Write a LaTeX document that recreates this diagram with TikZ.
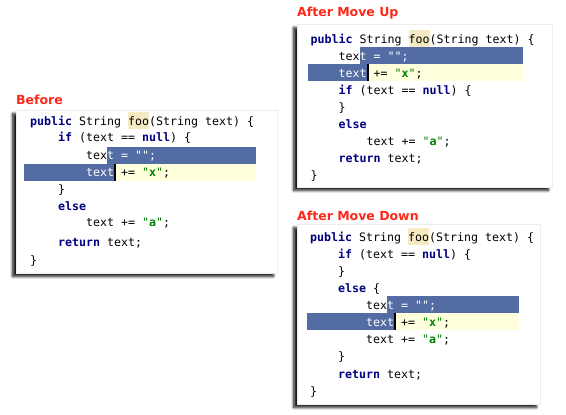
\documentclass[tikz,border=0pt]{standalone}
\usepackage{fontspec}
\setmainfont{DejaVu Sans}
\setmonofont{DejaVu Sans Mono}
\usetikzlibrary{shadows.blur}

\definecolor{titlered}{RGB}{255,38,26}
\definecolor{selblue}{RGB}{83,108,163}
\definecolor{lineyellow}{RGB}{255,255,221}
\definecolor{matchbeige}{RGB}{245,234,194}
\definecolor{kwnavy}{RGB}{0,0,128}
\definecolor{strgreen}{RGB}{0,128,0}

\newcommand{\kw}[1]{\textcolor{kwnavy}{\bfseries #1}}
\newcommand{\strlit}[1]{\textcolor{strgreen}{"\textbf{#1}"}}
\newcommand{\onsel}[1]{\textcolor{white}{#1}}

\tikzset{
	title/.style={anchor=base west, inner sep=0pt, text=titlered, font=\bfseries\fontsize{12.5}{14}\selectfont},
	code/.style={anchor=base west, inner sep=0pt, font=\ttfamily\fontsize{11.63}{14}\selectfont},
	panel/.style={fill=white, draw=black!7, blur shadow={shadow xshift=-3.5pt, shadow yshift=-3.5pt, shadow blur radius=2.5pt, shadow blur steps=8, shadow opacity=90}},
	sel/.style={fill=selblue},
	curline/.style={fill=lineyellow},
	match/.style={fill=matchbeige},
	caret/.style={fill=black}
}

\begin{document}
\begin{tikzpicture}[x=1pt, y=-1pt]
		\useasboundingbox (0,0) rectangle (566,415);

		% Before
		\pgfmathsetmacro{\cb}{30}
		\node[title] (tb) at (16,104) {Before};
		\path[panel] (16,110) rectangle (277,273);
		\fill[match] (\cb+98,112) rectangle (\cb+119,129);
		\fill[sel] (\cb+77,147) rectangle (256,164);
		\fill[sel] (24,164) rectangle (\cb+84,181);
		\fill[curline] (\cb+84,164) rectangle (256,181);
		\fill[caret] (\cb+84,164) rectangle (\cb+86,181);
		\node[code] (b1) at (\cb,125) {\kw{public} String foo(String text) \{};
		\node[code] (b2) at (\cb+28,141.7) {\kw{if} (text == \kw{null}) \{};
		\node[code] (b3) at (\cb+56,159.5) {tex\onsel{t = "";}};
		\node[code] (b4) at (\cb+56,176.5) {\onsel{text} += \strlit{x};};
		\node[code] (b5) at (\cb+28,193.3) {\}};
		\node[code] (b6) at (\cb+28,210) {\kw{else}};
		\node[code] (b7) at (\cb+56,226.7) {text += \strlit{a};};
		\node[code] (b8) at (\cb+28,246.7) {\kw{return} text;};
		\node[code] (b9) at (\cb,264) {\}};

		% After Move Up
		\pgfmathsetmacro{\cu}{310.5}
		\node[title] (tu) at (297,16.7) {After Move Up};
		\path[panel] (297,24) rectangle (552,187);
		\fill[match] (\cu+98,30) rectangle (\cu+119,47);
		\fill[sel] (\cu+49,47) rectangle (523,64);
		\fill[sel] (308,64) rectangle (\cu+56,81);
		\fill[curline] (\cu+56,64) rectangle (523,81);
		\fill[caret] (\cu+56,64) rectangle (\cu+58,81);
		\node[code] (u1) at (\cu,43.3) {\kw{public} String foo(String text) \{};
		\node[code] (u2) at (\cu+28,60) {tex\onsel{t = "";}};
		\node[code] (u3) at (\cu+28,77.3) {\onsel{text} += \strlit{x};};
		\node[code] (u4) at (\cu+28,94) {\kw{if} (text == \kw{null}) \{};
		\node[code] (u5) at (\cu+28,111.3) {\}};
		\node[code] (u6) at (\cu+28,128.3) {\kw{else}};
		\node[code] (u7) at (\cu+56,145.7) {text += \strlit{a};};
		\node[code] (u8) at (\cu+28,162.3) {\kw{return} text;};
		\node[code] (u9) at (\cu,179) {\}};

		% After Move Down
		\pgfmathsetmacro{\cd}{310}
		\node[title] (td) at (297,220) {After Move Down};
		\path[panel] (297,224) rectangle (540,404);
		\fill[match] (\cd+98,228) rectangle (\cd+119,245);
		\fill[sel] (\cd+77,296) rectangle (519,313);
		\fill[sel] (307,313) rectangle (\cd+84,330);
		\fill[curline] (\cd+84,313) rectangle (519,330);
		\fill[caret] (\cd+84,313) rectangle (\cd+86,330);
		\node[code] (d1) at (\cd,241.3) {\kw{public} String foo(String text) \{};
		\node[code] (d2) at (\cd+28,258) {\kw{if} (text == \kw{null}) \{};
		\node[code] (d3) at (\cd+28,275) {\}};
		\node[code] (d4) at (\cd+28,292.3) {\kw{else} \{};
		\node[code] (d5) at (\cd+56,309) {tex\onsel{t = "";}};
		\node[code] (d6) at (\cd+56,326.3) {\onsel{text} += \strlit{x};};
		\node[code] (d7) at (\cd+56,343.3) {text += \strlit{a};};
		\node[code] (d8) at (\cd+28,360) {\}};
		\node[code] (d9) at (\cd+28,378) {\kw{return} text;};
		\node[code] (d10) at (\cd,395.7) {\}};
	\end{tikzpicture}
\end{document}
